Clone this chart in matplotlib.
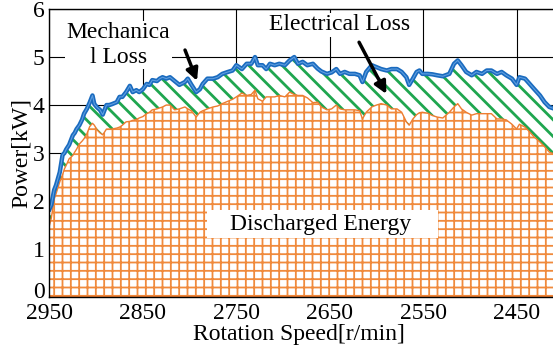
import matplotlib
matplotlib.use("Agg")
import matplotlib.pyplot as plt
from matplotlib.patches import Rectangle
from matplotlib.transforms import ScaledTranslation

plt.rcParams["font.family"] = ["Liberation Serif", "DejaVu Serif"]

# Rotation speed [r/min] (decreasing during discharge)
speed = [2950, 2948, 2945, 2943, 2939, 2936, 2934, 2932, 2929, 2925, 2923, 2921,
         2918, 2915, 2913, 2910, 2907, 2904, 2902, 2899, 2896, 2893, 2889, 2886,
         2883, 2878, 2875, 2872, 2868, 2864, 2861, 2857, 2854, 2850, 2846, 2843,
         2840, 2835, 2832, 2829, 2825, 2821, 2816, 2811, 2805, 2802, 2798, 2793,
         2789, 2786, 2781, 2775, 2770, 2765, 2759, 2754, 2750, 2744, 2739, 2734,
         2730, 2727, 2722, 2718, 2714, 2709, 2704, 2698, 2693, 2688, 2684, 2679,
         2674, 2668, 2663, 2659, 2653, 2648, 2643, 2639, 2634, 2629, 2623, 2618,
         2615, 2611, 2605, 2600, 2595, 2589, 2584, 2578, 2573, 2568, 2565, 2561,
         2557, 2554, 2551, 2545, 2540, 2535, 2529, 2522, 2517, 2513, 2509, 2504,
         2498, 2493, 2487, 2482, 2477, 2471, 2466, 2461, 2455, 2450, 2447, 2441,
         2436, 2431, 2425, 2420, 2415, 2406]

# total power (upper blue line) [kW]
total_power = [1.83, 1.92, 2.23, 2.33, 2.60, 2.96, 3.00, 3.08, 3.17, 3.37, 3.42, 3.50,
               3.58, 3.70, 3.82, 3.92, 4.05, 4.20, 4.02, 3.95, 3.90, 3.80, 4.00, 4.00,
               4.02, 4.06, 4.17, 4.17, 4.27, 4.40, 4.27, 4.31, 4.27, 4.33, 4.44, 4.42,
               4.52, 4.50, 4.55, 4.58, 4.55, 4.58, 4.50, 4.42, 4.48, 4.55, 4.42, 4.27,
               4.33, 4.44, 4.55, 4.55, 4.58, 4.65, 4.69, 4.72, 4.83, 4.75, 4.86, 4.86,
               5.00, 4.83, 4.83, 4.75, 4.86, 4.83, 4.86, 4.83, 4.93, 5.00, 4.86, 4.90,
               4.83, 4.86, 4.76, 4.70, 4.65, 4.68, 4.75, 4.65, 4.69, 4.65, 4.65, 4.62,
               4.48, 4.69, 4.83, 4.79, 4.75, 4.72, 4.75, 4.75, 4.69, 4.58, 4.42, 4.55,
               4.69, 4.72, 4.65, 4.65, 4.64, 4.62, 4.60, 4.65, 4.86, 4.93, 4.83, 4.69,
               4.62, 4.69, 4.65, 4.72, 4.72, 4.65, 4.69, 4.62, 4.55, 4.42, 4.58, 4.55,
               4.44, 4.33, 4.20, 4.06, 3.96, 3.90]

# discharged power (orange line) [kW]
discharged = [1.50, 1.65, 2.04, 2.15, 2.40, 2.55, 2.67, 2.75, 2.88, 2.95, 3.02, 3.08,
              3.19, 3.25, 3.30, 3.40, 3.55, 3.62, 3.58, 3.48, 3.42, 3.38, 3.50, 3.50,
              3.50, 3.52, 3.54, 3.58, 3.65, 3.66, 3.68, 3.70, 3.73, 3.76, 3.82, 3.85,
              3.90, 3.92, 3.94, 3.96, 4.00, 4.00, 3.90, 3.92, 3.96, 3.92, 3.88, 3.75,
              3.85, 3.88, 3.92, 3.96, 3.98, 4.03, 4.08, 4.12, 4.17, 4.25, 4.20, 4.22,
              4.31, 4.13, 4.08, 4.17, 4.17, 4.17, 4.20, 4.17, 4.27, 4.22, 4.20, 4.20,
              4.15, 4.05, 4.06, 3.96, 3.90, 3.92, 4.00, 3.92, 3.90, 3.90, 3.90, 3.88,
              3.71, 3.85, 3.96, 4.00, 4.03, 4.00, 3.92, 3.92, 3.85, 3.65, 3.58, 3.71,
              3.80, 3.84, 3.85, 3.83, 3.78, 3.75, 3.73, 3.85, 3.96, 4.03, 3.92, 3.85,
              3.79, 3.82, 3.82, 3.82, 3.82, 3.71, 3.71, 3.69, 3.60, 3.50, 3.60, 3.54,
              3.44, 3.33, 3.23, 3.13, 3.02, 2.95]

x_ticks = [2950, 2850, 2750, 2650, 2550, 2450]
y_ticks = [0, 1, 2, 3, 4, 5, 6]

fig = plt.figure(figsize=(5.53, 3.49), dpi=100)
# axes runs a little past the right edge, like the cropped original
ax = fig.add_axes([0.0895, 0.149, 0.919, 0.825])

ax.set_axisbelow(True)
ax.grid(True, color="black", linewidth=0.8)

# discharged energy (orange grid pattern)
plt.rcParams["hatch.linewidth"] = 1.3
ax.fill_between(speed, 0, discharged, facecolor="white", edgecolor="#f08a3c",
                hatch="++", linewidth=0)
ax.plot(speed, discharged, color="#ed7d31", linewidth=1.0)
ax.axhline(0, color="#ed7d31", linewidth=2.5)

# losses (green stripes)
plt.rcParams["hatch.linewidth"] = 2.0
ax.fill_between(speed, discharged, total_power, facecolor="white",
                edgecolor="#1fa64f", hatch="\\\\", linewidth=0)

# total power line
ax.plot(speed, total_power, color="#1a6bbf", linewidth=3.2)
ax.plot(speed, total_power, color="#5f9ee0", linewidth=0.8)

ax.set_xlim(2950, 2406)
ax.set_ylim(0, 6)
ax.set_xticks(x_ticks)
ax.set_yticks(y_ticks)
ax.tick_params(length=0, labelsize=17)
ax.tick_params(axis="x", pad=4)
ax.set_xlabel("Rotation Speed[r/min]", fontsize=17)
ax.xaxis.set_label_coords(0.49, -0.095)
ax.set_ylabel("Power[kW]", fontsize=17, labelpad=1)
for s in ax.spines.values():
    s.set_linewidth(1.0)

# lift the "0" a little so it clears "2950"
zero_lbl = ax.get_yticklabels()[0]
zero_lbl.set_transform(zero_lbl.get_transform() + ScaledTranslation(0, 5 / 72, fig.dpi_scale_trans))

# annotations
ax.text(2876, 5.25, "Mechanica\nl Loss", fontsize=17, ha="center", va="center",
        linespacing=1.2, bbox=dict(facecolor="white", edgecolor="none", pad=1))
ax.annotate("", xy=(2791, 4.45), xytext=(2806, 5.2),
            arrowprops=dict(arrowstyle="-|>", color="black", lw=2.5, mutation_scale=18))
ax.text(2640, 5.67, "Electrical Loss", fontsize=17, ha="center", va="center",
        bbox=dict(facecolor="white", edgecolor="none", pad=1))
ax.annotate("", xy=(2588, 4.18), xytext=(2620, 5.36),
            arrowprops=dict(arrowstyle="-|>", color="black", lw=2.5, mutation_scale=18))

ax.add_patch(Rectangle((0.309, 0.205), 0.456, 0.097, transform=ax.transAxes,
                       facecolor="white", edgecolor="none", zorder=4))
ax.text(2660, 1.52, "Discharged Energy", fontsize=17, ha="center", va="center", zorder=5)

fig.savefig("out.png", dpi=100)
